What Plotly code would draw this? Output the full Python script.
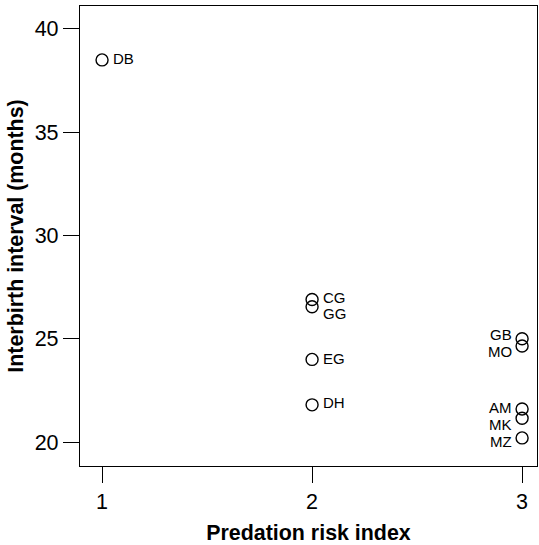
import plotly.graph_objects as go

# data
groups = ["DB", "CG", "GG", "EG", "DH", "GB", "MO", "AM", "MK", "MZ"]
predation_risk = [1, 2, 2, 2, 2, 3, 3, 3, 3, 3]
interbirth_months = [38.5, 26.9, 26.55, 24.0, 21.8, 25.0, 24.65, 21.6, 21.15, 20.2]
x_ticks = [1, 2, 3]
y_ticks = [20, 25, 30, 35, 40]

# label placement (style only)
label_side = ["r", "r", "r", "r", "r", "l", "l", "l", "l", "l"]
label_dy = [1, 2, -7, 1, 2, 4, -6, 1, -6, -4]

font = "Liberation Sans, Arial, Helvetica, sans-serif"

fig = go.Figure()
fig.add_trace(go.Scatter(
    x=predation_risk, y=interbirth_months, mode="markers",
    marker=dict(symbol="circle-open", size=12, color="black", line=dict(width=1.4, color="black")),
    hoverinfo="skip", showlegend=False,
))

for g, xv, yv, side, dy in zip(groups, predation_risk, interbirth_months, label_side, label_dy):
    fig.add_annotation(
        x=xv, y=yv, text=g, showarrow=False,
        xanchor="left" if side == "r" else "right", yanchor="middle",
        xshift=9 if side == "r" else -8, yshift=dy,
        font=dict(family=font, size=15, color="black"),
    )

axis_common = dict(
    showgrid=False, zeroline=False, showline=True, linecolor="black", linewidth=1.3,
    mirror=True, ticks="outside", ticklen=16, tickwidth=1.3, tickcolor="black",
    tickfont=dict(family=font, size=21.5, color="black"),
)

fig.update_layout(
    width=539, height=545,
    margin=dict(l=80, r=2, t=6, b=79),
    paper_bgcolor="white", plot_bgcolor="white",
    xaxis=dict(range=[0.895, 3.071], tickvals=x_ticks, ticktext=[str(v) for v in x_ticks],
               title=dict(text="<b>Predation risk index</b>", font=dict(family=font, size=21.4, color="black"), standoff=13),
               **axis_common),
    yaxis=dict(range=[18.84, 41.11], tickvals=y_ticks, ticktext=[str(v) for v in y_ticks],
               title=dict(text="<b>Interbirth interval (months)</b>", font=dict(family=font, size=21.4, color="black"), standoff=5),
               **axis_common),
)

fig.write_html("out.html", config={"displayModeBar": False})

with open("out.html", "r", encoding="utf-8") as f:
    html = f.read()
html = html.replace("<head>", "<head><style>html,body{margin:0;padding:0;overflow:hidden;}</style>", 1)
with open("out.html", "w", encoding="utf-8") as f:
    f.write(html)
